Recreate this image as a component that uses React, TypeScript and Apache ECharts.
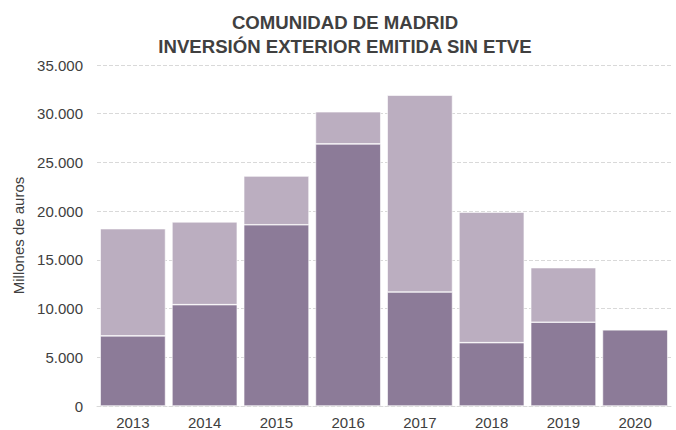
import React, { useEffect, useRef } from "react";
import * as echarts from "echarts";

const categories = ["2013", "2014", "2015", "2016", "2017", "2018", "2019", "2020"];
const darkValues = [7200, 10400, 18600, 26900, 11700, 6500, 8600, 7830];
const lightValues = [11000, 8500, 5000, 3300, 20200, 13400, 5600, 0];
const titleLines = ["COMUNIDAD DE MADRID", "INVERSIÓN EXTERIOR EMITIDA SIN ETVE"];
const yAxisName = "Millones de auros";

const FONT = "'Liberation Sans', Arial, sans-serif";

function fmt(v: number) {
  return String(v).replace(/\B(?=(\d{3})+(?!\d))/g, ".");
}

export default function App() {
  const ref = useRef<HTMLDivElement>(null);
  useEffect(() => {
    if (!ref.current) return;
    const chart = echarts.init(ref.current, null, { renderer: "svg" });
    chart.setOption({
      animation: false,
      backgroundColor: "#ffffff",
      textStyle: { fontFamily: FONT },
      graphic: [
        {
          type: "text",
          x: 345,
          y: 10,
          style: {
            text: titleLines.join("\n"),
            font: `bold 18.6px ${FONT}`,
            fill: "#404040",
            align: "center",
            lineHeight: 24,
          },
        },
      ],
      grid: { left: 97, right: 5, top: 65, bottom: 24, containLabel: false },
      xAxis: {
        type: "category",
        data: categories,
        axisLine: { show: true, lineStyle: { color: "#d9d9d9", type: "dashed" } },
        axisTick: { show: false },
        axisLabel: { color: "#404040", fontSize: 15, fontFamily: FONT, margin: 9 },
      },
      yAxis: {
        type: "value",
        min: 0,
        max: 35000,
        interval: 5000,
        name: yAxisName,
        nameLocation: "middle",
        nameGap: 58,
        nameTextStyle: { color: "#404040", fontSize: 15, fontFamily: FONT },
        axisLine: { show: false },
        axisTick: { show: false },
        splitLine: { lineStyle: { color: "#d9d9d9", type: "dashed", width: 1 } },
        axisLabel: {
          color: "#404040",
          fontSize: 15,
          fontFamily: FONT,
          margin: 14,
          formatter: (v: number) => fmt(v),
        },
      },
      series: [
        {
          type: "bar",
          stack: "total",
          data: darkValues,
          barCategoryGap: "9%",
          itemStyle: { color: "#8c7b98", borderColor: "#ffffff", borderWidth: 0.6 },
        },
        {
          type: "bar",
          stack: "total",
          data: lightValues,
          barCategoryGap: "9%",
          itemStyle: { color: "#bbaec0", borderColor: "#ffffff", borderWidth: 0.6 },
        },
      ],
    });
    return () => chart.dispose();
  }, []);
  return <div ref={ref} style={{ width: 676, height: 430, position: "absolute", left: 0, top: 0 }} />;
}
